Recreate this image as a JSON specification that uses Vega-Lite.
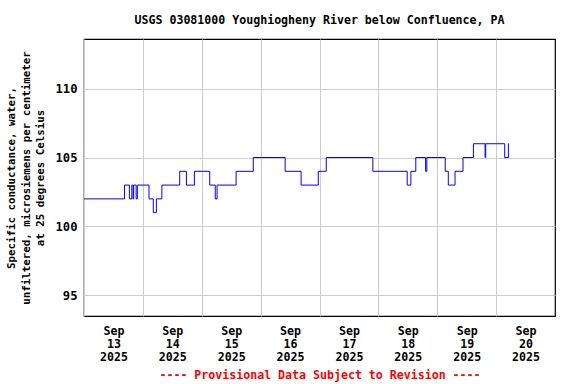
{
  "$schema": "https://vega.github.io/schema/vega-lite/v6.json",
  "width": 471,
  "height": 277,
  "autosize": "none",
  "padding": {"left": 84, "top": 39, "right": 21, "bottom": 68},
  "background": "white",
  "config": {
    "font": "DejaVu Sans Mono",
    "view": {"stroke": "black", "strokeWidth": 1.2},
    "axis": {"labelFont": "DejaVu Sans Mono", "titleFont": "DejaVu Sans Mono", "labelFontWeight": "bold", "titleFontWeight": "bold", "labelColor": "black", "titleColor": "black", "gridColor": "#cccccc", "gridOpacity": 1, "gridWidth": 1, "domain": false, "ticks": false}
  },
  "title": {
    "text": "USGS 03081000 Youghiogheny River below Confluence, PA",
    "font": "DejaVu Sans Mono",
    "fontSize": 11.6,
    "fontWeight": "bold",
    "color": "black",
    "anchor": "middle",
    "offset": 12
  },
  "data": {
    "values": [
      {"time": "2025-09-13T00:00:00", "value": 102},
      {"time": "2025-09-13T16:30:00", "value": 103},
      {"time": "2025-09-13T18:30:00", "value": 102},
      {"time": "2025-09-13T19:30:00", "value": 103},
      {"time": "2025-09-13T20:00:00", "value": 102},
      {"time": "2025-09-13T20:15:00", "value": 103},
      {"time": "2025-09-13T21:15:00", "value": 102},
      {"time": "2025-09-13T21:45:00", "value": 103},
      {"time": "2025-09-14T02:30:00", "value": 102},
      {"time": "2025-09-14T04:15:00", "value": 101},
      {"time": "2025-09-14T05:30:00", "value": 102},
      {"time": "2025-09-14T07:45:00", "value": 103},
      {"time": "2025-09-14T15:00:00", "value": 104},
      {"time": "2025-09-14T17:45:00", "value": 103},
      {"time": "2025-09-14T21:00:00", "value": 104},
      {"time": "2025-09-15T03:15:00", "value": 103},
      {"time": "2025-09-15T05:30:00", "value": 102},
      {"time": "2025-09-15T06:15:00", "value": 103},
      {"time": "2025-09-15T14:00:00", "value": 104},
      {"time": "2025-09-15T21:00:00", "value": 105},
      {"time": "2025-09-16T10:00:00", "value": 104},
      {"time": "2025-09-16T16:30:00", "value": 103},
      {"time": "2025-09-16T23:30:00", "value": 104},
      {"time": "2025-09-17T02:45:00", "value": 105},
      {"time": "2025-09-17T21:45:00", "value": 104},
      {"time": "2025-09-18T11:45:00", "value": 103},
      {"time": "2025-09-18T13:15:00", "value": 104},
      {"time": "2025-09-18T15:15:00", "value": 105},
      {"time": "2025-09-18T19:15:00", "value": 104},
      {"time": "2025-09-18T19:45:00", "value": 105},
      {"time": "2025-09-19T03:15:00", "value": 104},
      {"time": "2025-09-19T04:30:00", "value": 103},
      {"time": "2025-09-19T07:15:00", "value": 104},
      {"time": "2025-09-19T10:30:00", "value": 105},
      {"time": "2025-09-19T14:45:00", "value": 106},
      {"time": "2025-09-19T19:30:00", "value": 105},
      {"time": "2025-09-19T19:45:00", "value": 106},
      {"time": "2025-09-20T03:30:00", "value": 105},
      {"time": "2025-09-20T05:00:00", "value": 106},
      {"time": "2025-09-20T05:15:00", "value": 106}
    ]
  },
  "mark": {"type": "line", "interpolate": "step-after", "color": "#0000ff", "strokeWidth": 1},
  "encoding": {
    "x": {
      "field": "time",
      "type": "temporal",
      "scale": {"domain": [{"year": 2025, "month": 9, "date": 13}, {"year": 2025, "month": 9, "date": 21}]},
      "axis": {
        "values": [
          {"year": 2025, "month": 9, "date": 13},
          {"year": 2025, "month": 9, "date": 14},
          {"year": 2025, "month": 9, "date": 15},
          {"year": 2025, "month": 9, "date": 16},
          {"year": 2025, "month": 9, "date": 17},
          {"year": 2025, "month": 9, "date": 18},
          {"year": 2025, "month": 9, "date": 19},
          {"year": 2025, "month": 9, "date": 20}
        ],
        "labelExpr": "[timeFormat(datum.value, '%b'), timeFormat(datum.value, '%d'), timeFormat(datum.value, '%Y')]",
        "labelOffset": 29.4,
        "labelFontSize": 11.6,
        "labelLineHeight": 13,
        "labelPadding": 9,
        "labelBaseline": "top",
        "labelAlign": "center",
        "labelFlush": false,
        "labelOverlap": false,
        "title": "---- Provisional Data Subject to Revision ----",
        "titleColor": "#ff0000",
        "titleFontSize": 11.6,
        "titlePadding": 7
      }
    },
    "y": {
      "field": "value",
      "type": "quantitative",
      "scale": {"domain": [93.5, 113.6], "nice": false, "zero": false},
      "axis": {
        "values": [95, 100, 105, 110],
        "labelFontSize": 12.2,
        "labelPadding": 7,
        "title": ["Specific conductance, water,", "unfiltered, microsiemens per centimeter", "at 25 degrees Celsius"],
        "titleFontSize": 10.8,
        "titleLineHeight": 14.5,
        "titlePadding": 9
      }
    }
  }
}
